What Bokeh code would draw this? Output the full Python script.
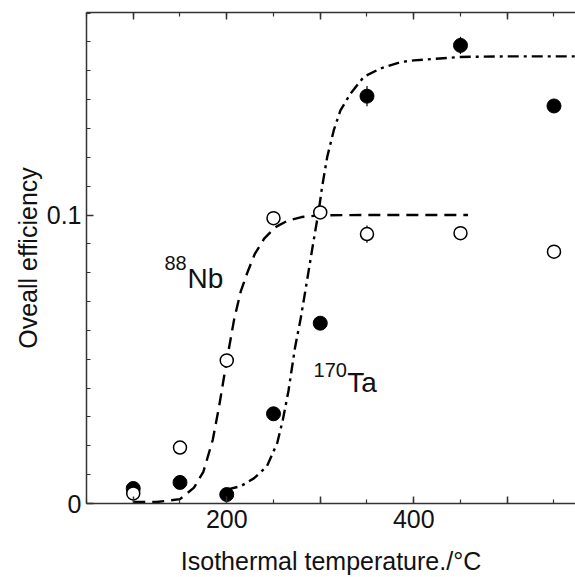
from bokeh.plotting import figure
from bokeh.models import LinearAxis, SingleIntervalTicker, Label, Title, CustomJSTickFormatter
from bokeh.embed import file_html
from bokeh.resources import INLINE

# ---- data ----
temps = [100, 150, 200, 250, 300, 350, 450, 550]
nb_eff = [0.0035, 0.0194, 0.0496, 0.0989, 0.1009, 0.0934, 0.0937, 0.0873]
nb_err = [0, 0, 0, 0, 0, 0.003, 0, 0]
ta_eff = [0.0052, 0.0073, 0.0031, 0.0311, 0.0625, 0.1412, 0.1588, 0.1378]
ta_err = [0, 0, 0, 0, 0, 0.0035, 0.003, 0]

nb_curve_x = [100, 125, 150, 165, 175, 185, 192, 200, 208, 215, 222, 230, 240, 252, 265, 280, 300, 350, 400, 458]
nb_curve_y = [0.0005, 0.0005, 0.0015, 0.0055, 0.011, 0.022, 0.034, 0.0495, 0.064, 0.0735, 0.080, 0.0865,
              0.0918, 0.0958, 0.0980, 0.0993, 0.0999, 0.1, 0.1, 0.1]
ta_curve_x = [200, 215, 229, 243, 254, 260, 266, 273, 279, 286, 293, 298.5, 302, 307.5, 314.5, 321.6,
              332.4, 346.6, 364.4, 385.8, 400, 450, 500, 573]
ta_curve_y = [0.0048, 0.006, 0.0087, 0.0129, 0.021, 0.029, 0.039, 0.054, 0.064, 0.0775, 0.0913, 0.1017,
              0.1098, 0.1202, 0.1294, 0.1363, 0.1421, 0.1479, 0.1508, 0.153, 0.1536, 0.1548, 0.155, 0.155]

x_label_hidden = {100: "", 300: "", 500: ""}
y_label_map = {0: "0"}

FONT = "Liberation Sans"
AX = "#333333"
TXT = "#111111"

p = figure(width=575, height=577, x_range=(50, 573), y_range=(0, 0.1702),
           output_backend="svg", toolbar_location=None,
           min_border_left=86, min_border_right=0, min_border_top=12, min_border_bottom=73)
p.outline_line_color = None
p.xgrid.visible = False
p.ygrid.visible = False
p.background_fill_color = "white"
p.border_fill_color = "white"

xt = SingleIntervalTicker(interval=100, num_minor_ticks=2)
yt = SingleIntervalTicker(interval=0.1, num_minor_ticks=10)

def style(ax):
    ax.axis_line_color = AX
    ax.axis_line_width = 1.5
    ax.major_tick_line_color = AX
    ax.minor_tick_line_color = AX
    ax.major_tick_line_width = 1.5
    ax.minor_tick_line_width = 1.2
    ax.major_tick_in = 7
    ax.major_tick_out = 0
    ax.minor_tick_in = 4
    ax.minor_tick_out = 0
    ax.major_label_text_font = FONT
    ax.major_label_text_font_size = "25px"
    ax.major_label_text_color = TXT

xa = p.xaxis[0]
xa.ticker = xt
style(xa)
xa.major_label_overrides = x_label_hidden
xa.major_label_standoff = 6
xa.major_label_text_line_height = 1.0
xa.axis_label = "Isothermal temperature./°C"
xa.axis_label_text_font = FONT
xa.axis_label_text_font_size = "25px"
xa.axis_label_text_font_style = "normal"
xa.axis_label_text_color = TXT
xa.axis_label_text_line_height = 1.0
xa.axis_label_standoff = 16

ya = p.yaxis[0]
ya.ticker = yt
style(ya)
ya.major_label_overrides = y_label_map
ya.major_label_standoff = 5

top = LinearAxis(ticker=xt, formatter=CustomJSTickFormatter(code="return ''"))
style(top)
top.major_label_standoff = 0
p.add_layout(top, "above")

# y-axis title
p.add_layout(Title(text="Oveall efficiency", align="center", offset=20, standoff=4,
                   text_font=FONT, text_font_size="25px", text_font_style="normal",
                   text_color=TXT), "left")

# curves
p.line(nb_curve_x, nb_curve_y, line_color="black", line_width=2.4, line_dash="12 7")
p.line(ta_curve_x, ta_curve_y, line_color="black", line_width=2.4, line_dash="11 5 3 5")

# error bars
ta_lo = [v - e for v, e in zip(ta_eff, ta_err)]
ta_hi = [v + e for v, e in zip(ta_eff, ta_err)]
nb_lo = [v - e for v, e in zip(nb_eff, nb_err)]
nb_hi = [v + e for v, e in zip(nb_eff, nb_err)]
p.segment(temps, ta_lo, temps, ta_hi, line_color="black", line_width=1.2)
p.segment(temps, nb_lo, temps, nb_hi, line_color="black", line_width=1.2)

# points
p.scatter(temps, ta_eff, size=14, marker="circle", fill_color="black", line_color="black")
p.scatter(temps, nb_eff, size=13, marker="circle", fill_color="white", line_color="black", line_width=1.5)

# annotations
p.add_layout(Label(x=158, y=0.0779, text="Nb", text_font=FONT, text_font_size="28px",
                   text_baseline="alphabetic", text_align="left", text_color=TXT))
p.add_layout(Label(x=133.4, y=0.0834, text="88", text_font=FONT, text_font_size="20px",
                   text_baseline="alphabetic", text_align="left", text_color=TXT))
p.add_layout(Label(x=329, y=0.0419, text="Ta", text_font=FONT, text_font_size="28px",
                   text_baseline="alphabetic", text_align="left", text_color=TXT))
p.add_layout(Label(x=292.8, y=0.0464, text="170", text_font=FONT, text_font_size="20px",
                   text_baseline="alphabetic", text_align="left", text_color=TXT))

open("out.html", "w").write(file_html(p, INLINE))
